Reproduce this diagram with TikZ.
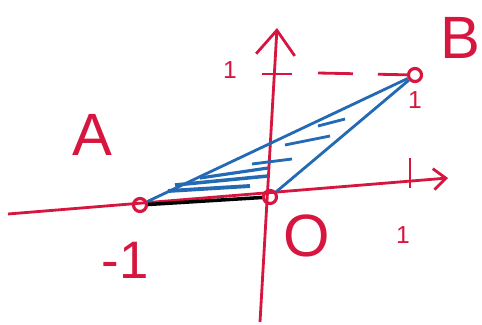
\documentclass[tikz,border=0pt]{standalone}
\usepackage{fontspec}
\setmainfont{Liberation Sans}
\usetikzlibrary{arrows.meta}
\definecolor{crim}{RGB}{214,22,62}
\definecolor{pen}{RGB}{35,105,180}
\tikzset{
  pt/.style={circle,draw=crim,line width=1.8pt,minimum size=0.26cm,inner sep=0pt},
  lbl/.style={text=crim,font=\fontsize{34}{34}\selectfont},
  tick/.style={text=crim,font=\fontsize{14}{14}\selectfont}
}
\begin{document}
\begin{tikzpicture}[x=0.02cm,y=-0.02cm,line width=1.6pt]
    \useasboundingbox (0,0) rectangle (482,324);
    % axes
    \draw[crim,-{Straight Barb[length=7pt,width=12pt]}] (8,214) -- (448,178);
    \draw[crim,-{Straight Barb[length=14pt,width=22pt]}] (260,322) -- (277,28);
    \draw[crim] (410,158) -- (410,188);
    \draw[crim] (262,74) -- (292,74);
    % points
    \node[pt] (A) at (140,205) {};
    \node[pt] (O) at (270,197) {};
    \node[pt] (B) at (415,75) {};
    % triangle
    \draw[pen] (A) -- (B);
    \draw[pen] (O) -- (B);
    \draw[black,line width=2pt] (A) -- (O);
    \draw[pen,line width=2.2pt] (168,191) -- (250,186);
    \draw[pen,line width=2pt] (175,185) -- (268,176);
    \draw[pen,line width=1.8pt] (200,178) -- (268,168);
    \draw[pen,line width=1.6pt] (252,164) -- (292,159);
    \draw[pen,line width=1.6pt] (285,145) -- (330,136);
    \draw[pen,line width=1.6pt] (318,126) -- (345,119);
    % dashes to B
    \coordinate (Y1) at (318,73);
    \draw[crim,dash pattern=on 0.7cm off 0.5cm] (Y1) -- (B);
    % labels
    \node[lbl] (lA) at (92,135) {A};
    \node[lbl] (lB) at (460,38) {B};
    \node[lbl] (lO) at (307,236) {O};
    \node[lbl,font=\fontsize{30}{30}\selectfont] (lm) at (125,260) {-1};
    \node[tick] (lx) at (403,235) {1};
    \node[tick] (ly) at (230,70) {1};
    \node[tick] (lb) at (415,100) {1};
\end{tikzpicture}
\end{document}
